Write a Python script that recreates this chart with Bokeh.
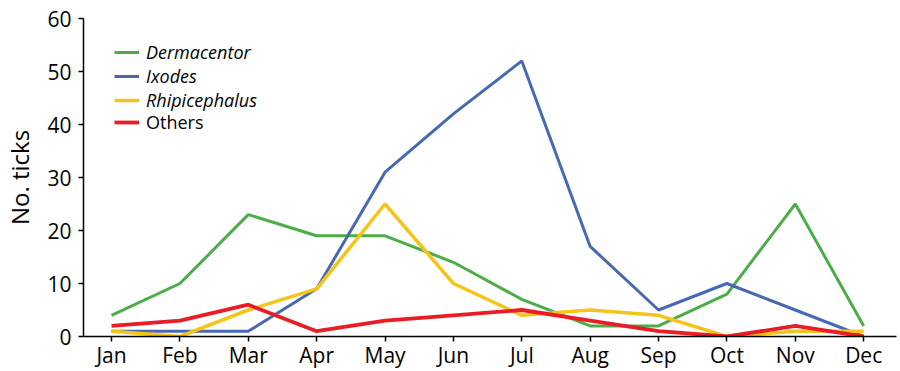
from bokeh.plotting import figure
from bokeh.models import Legend, LegendItem, FixedTicker, Range1d
from bokeh.embed import file_html
from bokeh.resources import INLINE

months = ["Jan", "Feb", "Mar", "Apr", "May", "Jun", "Jul", "Aug", "Sep", "Oct", "Nov", "Dec"]
dermacentor = [4, 10, 23, 19, 19, 14, 7, 2, 2, 8, 25, 2]
ixodes = [1, 1, 1, 9, 31, 42, 52, 17, 5, 10, 5, 0]
rhipicephalus = [1, 0, 5, 9, 25, 10, 4, 5, 4, 0, 1, 1]
others = [2, 3, 6, 1, 3, 4, 5, 3, 1, 0, 2, 0]
y_ticks = [0, 10, 20, 30, 40, 50, 60]

FONT = "Open Sans"
xs = list(range(len(months)))
FH = 318

p = figure(frame_width=813, frame_height=FH, output_backend="svg", toolbar_location=None,
           title=None,
           x_range=Range1d(-0.41, 11.48), y_range=Range1d(0, 60),
           min_border_top=18, min_border_left=80, min_border_right=4, min_border_bottom=0)
p.outline_line_color = None
p.grid.visible = False
p.background_fill_color = "white"

r_d = p.line(xs, dermacentor, line_color="#4cad48", line_width=3)
r_i = p.line(xs, ixodes, line_color="#4868b2", line_width=3)
r_r = p.line(xs, rhipicephalus, line_color="#f5c418", line_width=3.5)
r_o = p.line(xs, others, line_color="#ea1c25", line_width=3.8)

for ax in (p.xaxis[0], p.yaxis[0]):
    ax.axis_line_color = "black"
    ax.axis_line_width = 1.5
    ax.major_tick_line_color = "black"
    ax.major_tick_line_width = 1.5
    ax.major_tick_in = 0
    ax.major_tick_out = 5
    ax.minor_tick_line_color = None
    ax.major_label_text_font = FONT
    ax.major_label_text_color = "black"
    ax.major_label_text_font_size = "21px"

p.xaxis.ticker = FixedTicker(ticks=xs)
p.xaxis.major_label_overrides = {i: m for i, m in enumerate(months)}
p.xaxis.major_label_standoff = -1

p.yaxis.ticker = FixedTicker(ticks=y_ticks)
p.yaxis.major_label_standoff = 7
p.yaxis.axis_label = "No. ticks"
p.yaxis.axis_label_text_font = FONT
p.yaxis.axis_label_text_font_size = "24px"
p.yaxis.axis_label_text_font_style = "normal"
p.yaxis.axis_label_text_color = "black"
p.yaxis.axis_label_standoff = 8

def style_legend(lg, italic):
    lg.label_text_font = FONT
    lg.label_text_font_size = "18px"
    lg.label_text_font_style = "italic" if italic else "normal"
    lg.label_text_color = "black"
    lg.border_line_color = None
    lg.background_fill_alpha = 0
    lg.padding = 0
    lg.margin = 0
    lg.spacing = -1
    lg.glyph_width = 25
    lg.glyph_height = 20
    lg.label_height = 20
    lg.label_standoff = 7

leg1 = Legend(items=[LegendItem(label="Dermacentor", renderers=[r_d]),
                     LegendItem(label="Ixodes", renderers=[r_i]),
                     LegendItem(label="Rhipicephalus", renderers=[r_r])],
              location=(31, FH - 94))
leg2 = Legend(items=[LegendItem(label="Others", renderers=[r_o])], location=(31, FH - 116))
style_legend(leg1, True)
style_legend(leg2, False)
p.add_layout(leg1, "center")
p.add_layout(leg2, "center")

open("out.html", "w").write(file_html(p, INLINE))
